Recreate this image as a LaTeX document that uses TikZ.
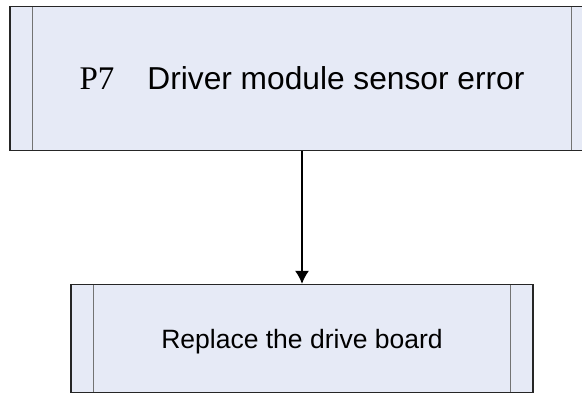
\documentclass[tikz,border=0pt]{standalone}
\usepackage{fontspec}
\setmainfont{Liberation Sans}
\newfontfamily\pnum{Liberation Serif}
\usepackage{xcolor}
\usepackage{tikz}
\usetikzlibrary{positioning,arrows.meta,calc}
\definecolor{procfill}{RGB}{230,234,246}

\begin{document}
\begin{tikzpicture}[
  x=1pt,y=1pt,
  >={Latex[length=13pt,width=14pt]},
  proc/.style ={draw=black!85,line width=1.2pt,fill=procfill,text=black,
                align=center,inner sep=0pt,text depth=0pt,
                path picture={
                  \draw[draw=black!55,line width=1.4pt]
                    ([xshift=#1]path picture bounding box.north west) --
                    ([xshift=#1]path picture bounding box.south west);
                  \draw[draw=black!55,line width=1.4pt]
                    ([xshift=-#1]path picture bounding box.north east) --
                    ([xshift=-#1]path picture bounding box.south east);}},
  flow/.style ={->,line width=1.3pt,draw=black},
]
\useasboundingbox (0,0) rectangle (582,394);

% ===================== fault code ========================================
\node[proc=22.5pt,minimum width=584pt,minimum height=144pt,
      font=\fontsize{31.7}{38}\selectfont] (P7) at (302,315.8)
  {{\pnum\fontsize{33}{38}\selectfont P7}\hspace{33pt}Driver module sensor error};

% ===================== remedy ============================================
\node[proc=22.7pt,minimum width=462pt,minimum height=108.5pt,
      font=\fontsize{26.5}{32}\selectfont,below=133pt of P7] (DB)
  {Replace the drive board};

\draw[flow] (P7) -- (DB);

\end{tikzpicture}
\end{document}
